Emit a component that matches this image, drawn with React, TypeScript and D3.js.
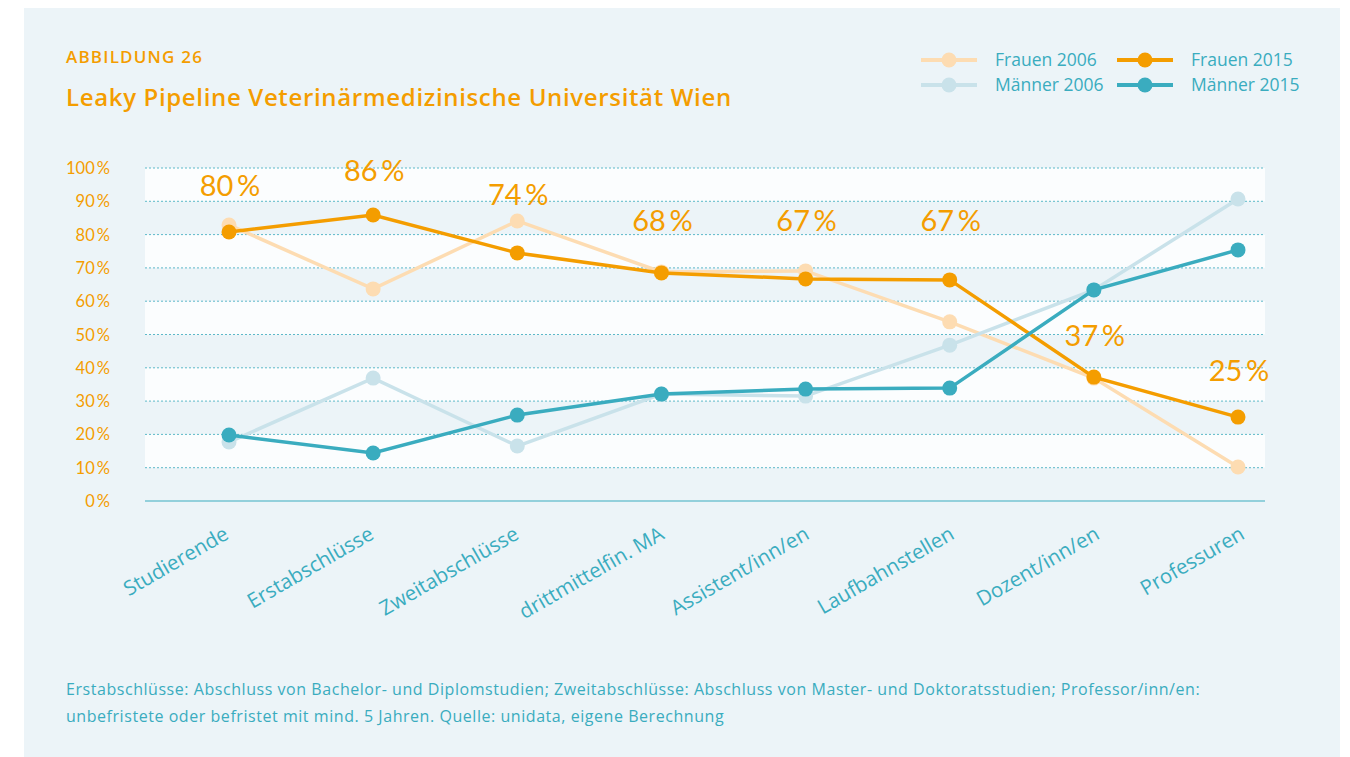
import React, { useEffect, useRef } from "react";
import * as d3 from "d3";

const categories = [
  "Studierende",
  "Erstabschlüsse",
  "Zweitabschlüsse",
  "drittmittelfin. MA",
  "Assistent/inn/en",
  "Laufbahnstellen",
  "Dozent/inn/en",
  "Professuren",
];

const frauen2006 = [82.9, 63.7, 84.1, 68.8, 69.1, 53.8, 36.9, 10.2];
const maenner2006 = [17.7, 36.9, 16.5, 32.1, 31.5, 46.8, 63.4, 90.7];
const frauen2015 = [80.8, 85.9, 74.5, 68.5, 66.7, 66.4, 37.2, 25.2];
const maenner2015 = [19.8, 14.4, 25.8, 32.1, 33.6, 33.9, 63.4, 75.4];

const valueLabels = ["80", "86", "74", "68", "67", "67", "37", "25"];
// where the value annotations sit (in chart units)
const labelLevels = [91.6, 96.1, 88.9, 81.1, 81.1, 81.1, 46.5, 36];

const yTicks = [0, 10, 20, 30, 40, 50, 60, 70, 80, 90, 100];

const FONT = "'Open Sans', sans-serif";
const NUM_FONT = "Lato, sans-serif";
const ORANGE = "#f49d00";
const ORANGE_LIGHT = "#fddcb2";
const TEAL = "#3aacbf";
const TEAL_LIGHT = "#c9e2ea";

const App = () => {
  const svgRef = useRef<SVGSVGElement>(null);

  useEffect(() => {
    const svg = d3.select(svgRef.current);
    svg.selectAll("*").remove();

    const height = 757;

    // panel background
    svg
      .append("rect")
      .attr("x", 24)
      .attr("y", 8)
      .attr("width", 1316)
      .attr("height", height - 8)
      .attr("fill", "#ecf4f8");

    const x = d3.scalePoint<string>().domain(categories).range([229, 1238]);
    const y = d3.scaleLinear().domain([0, 100]).range([501, 168]);
    const left = 145;
    const right = 1265;

    // alternating stripes
    for (let i = 0; i < 10; i += 2) {
      const top = 100 - i * 10;
      svg
        .append("rect")
        .attr("x", left)
        .attr("y", y(top))
        .attr("width", right - left)
        .attr("height", y(top - 10) - y(top))
        .attr("fill", "#fbfdfe");
    }

    // grid
    svg
      .append("g")
      .selectAll("line")
      .data(yTicks.filter((d) => d > 0))
      .enter()
      .append("line")
      .attr("x1", left)
      .attr("x2", right)
      .attr("y1", (d) => y(d))
      .attr("y2", (d) => y(d))
      .attr("stroke", "#5db9c9")
      .attr("stroke-width", 1)
      .attr("stroke-dasharray", "2,2");

    svg
      .append("line")
      .attr("x1", left)
      .attr("x2", right)
      .attr("y1", y(0))
      .attr("y2", y(0))
      .attr("stroke", "#3aacbf")
      .attr("stroke-width", 1);

    // y tick labels
    svg
      .append("g")
      .selectAll("text")
      .data(yTicks)
      .enter()
      .append("text")
      .attr("x", 110)
      .attr("y", (d) => y(d) + 6)
      .attr("text-anchor", "end")
      .attr("font-family", NUM_FONT)
      .attr("font-size", 16.5)
      .attr("fill", ORANGE)
      .text((d) => `${d}\u2009%`);

    // x labels
    svg
      .append("g")
      .selectAll("text")
      .data(categories)
      .enter()
      .append("text")
      .attr("transform", (d, i) => `translate(${(x(d) as number) + 1 + i},${538}) rotate(-30)`)
      .attr("text-anchor", "end")
      .attr("font-family", FONT)
      .attr("font-size", 20.5)
      .attr("fill", TEAL)
      .text((d) => d);

    const series = [
      { values: frauen2006, color: ORANGE_LIGHT },
      { values: maenner2006, color: TEAL_LIGHT },
      { values: frauen2015, color: ORANGE },
      { values: maenner2015, color: TEAL },
    ];

    const line = d3
      .line<number>()
      .x((_, i) => x(categories[i]) as number)
      .y((d) => y(d));

    series.forEach((s) => {
      svg
        .append("path")
        .datum(s.values)
        .attr("d", line)
        .attr("fill", "none")
        .attr("stroke", s.color)
        .attr("stroke-width", 3.5);
      svg
        .append("g")
        .selectAll("circle")
        .data(s.values)
        .enter()
        .append("circle")
        .attr("cx", (_, i) => x(categories[i]) as number)
        .attr("cy", (d) => y(d))
        .attr("r", 7.5)
        .attr("fill", s.color);
    });

    // value labels
    svg
      .append("g")
      .selectAll("text")
      .data(valueLabels)
      .enter()
      .append("text")
      .attr("x", (_, i) => (x(categories[i]) as number) + 1)
      .attr("y", (_, i) => y(labelLevels[i]))
      .attr("text-anchor", "middle")
      .attr("font-family", NUM_FONT)
      .attr("font-size", 29)
      .attr("fill", ORANGE)
      .text((d) => `${d}\u2009%`);

    // titles
    svg
      .append("text")
      .attr("x", 66)
      .attr("y", 63)
      .attr("font-family", FONT)
      .attr("font-weight", 600)
      .attr("font-size", 17)
      .attr("letter-spacing", 1.2)
      .attr("fill", ORANGE)
      .text("ABBILDUNG 26");
    svg
      .append("text")
      .attr("x", 66)
      .attr("y", 106)
      .attr("font-family", FONT)
      .attr("font-weight", 600)
      .attr("font-size", 24)
      .attr("letter-spacing", 0.65)
      .attr("fill", ORANGE)
      .text("Leaky Pipeline Veterinärmedizinische Universität Wien");

    // legend
    const legend = [
      { label: "Frauen 2006", color: ORANGE_LIGHT, lx: 921, ly: 60 },
      { label: "Männer 2006", color: TEAL_LIGHT, lx: 921, ly: 85 },
      { label: "Frauen 2015", color: ORANGE, lx: 1117, ly: 60 },
      { label: "Männer 2015", color: TEAL, lx: 1117, ly: 85 },
    ];
    const lg = svg.append("g");
    legend.forEach((l) => {
      lg.append("line")
        .attr("x1", l.lx)
        .attr("x2", l.lx + 56)
        .attr("y1", l.ly)
        .attr("y2", l.ly)
        .attr("stroke", l.color)
        .attr("stroke-width", 4);
      lg.append("circle")
        .attr("cx", l.lx + 28)
        .attr("cy", l.ly)
        .attr("r", 7.5)
        .attr("fill", l.color);
      lg.append("text")
        .attr("x", l.lx + 74)
        .attr("y", l.ly + 6)
        .attr("font-family", FONT)
        .attr("font-size", 17.5)
        .attr("fill", TEAL)
        .text(l.label);
    });

    // footnote
    const notes = [
      "Erstabschlüsse: Abschluss von Bachelor- und Diplomstudien; Zweitabschlüsse: Abschluss von Master- und Doktoratsstudien; Professor/inn/en:",
      "unbefristete oder befristet mit mind. 5 Jahren. Quelle: unidata, eigene Berechnung",
    ];
    svg
      .append("g")
      .selectAll("text")
      .data(notes)
      .enter()
      .append("text")
      .attr("x", 66)
      .attr("y", (_, i) => 695 + i * 27)
      .attr("font-family", FONT)
      .attr("font-size", 16)
      .attr("letter-spacing", 0.55)
      .attr("fill", TEAL)
      .text((d) => d);
  }, []);

  return (
    <svg
      ref={svgRef}
      width={1350}
      height={757}
      style={{ position: "absolute", left: 0, top: 0, background: "#fff" }}
    ></svg>
  );
};

export default App;
